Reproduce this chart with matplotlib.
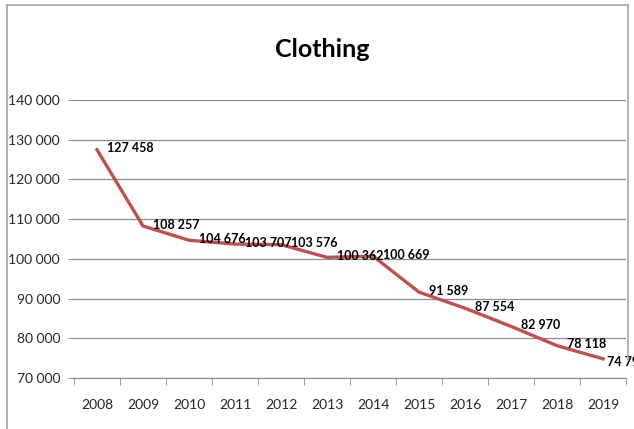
import matplotlib
matplotlib.use("Agg")
import matplotlib.pyplot as plt
from matplotlib.lines import Line2D

years = ["2008", "2009", "2010", "2011", "2012", "2013",
         "2014", "2015", "2016", "2017", "2018", "2019"]
values = [127458, 108257, 104676, 103707, 103576, 100362,
          100669, 91589, 87554, 82970, 78118, 74799]
y_ticks = [70000, 80000, 90000, 100000, 110000, 120000, 130000, 140000]

plt.rcParams["font.family"] = ["Lato", "DejaVu Sans"]


def fmt(v):
    return f"{v:,}".replace(",", " ")


fig = plt.figure(figsize=(6.34, 4.29), dpi=100)
ax = fig.add_axes([0.1167, 0.119, 0.871, 0.648])

x = list(range(len(years)))
ax.plot(x, values, color="#C0504D", lw=2.4, solid_joinstyle="round", zorder=3)

for i, (xi, v) in enumerate(zip(x, values)):
    dx = 3 if i == len(values) - 1 else 7
    dy = -2 if i == len(values) - 1 else 1
    ax.annotate(fmt(v), (xi, v), xytext=(dx, dy), textcoords="offset points",
                ha="left", va="center", fontsize=9, fontweight="bold",
                color="black", zorder=4, annotation_clip=False)

ax.set_xlim(-0.5, len(years) - 0.5)
ax.set_ylim(70000, 140000)
ax.set_yticks(y_ticks)
ax.set_yticklabels([fmt(t) for t in y_ticks], fontsize=10, color="#262626")
ax.set_xticks(x)
ax.set_xticklabels(years, fontsize=10, color="#262626")
ax.tick_params(axis="x", length=0, pad=15)
ax.tick_params(axis="y", length=4, color="#8c8c8c", pad=6)
ax.set_xticks([i + 0.5 for i in range(-1, len(years))], minor=True)
ax.tick_params(axis="x", which="minor", length=5, color="#8c8c8c", direction="out")
ax.grid(axis="y", color="#8c8c8c", lw=0.9)
ax.set_axisbelow(True)
for side in ("top", "right", "left"):
    ax.spines[side].set_visible(False)
ax.spines["bottom"].set_color("#8c8c8c")

fig.text(0.508, 0.885, "Clothing", ha="center", va="center",
         fontsize=18, fontweight="bold")

# chart frame
frame_color = "#a6a6a6"
W, H = 634, 429
fig.add_artist(Line2D([7 / W, 7 / W], [0, 1 - 5 / H], color=frame_color, lw=1.2))
fig.add_artist(Line2D([7 / W, 628 / W], [1 - 5 / H, 1 - 5 / H], color=frame_color, lw=1.2))
fig.add_artist(Line2D([628 / W, 628 / W], [1 - 5 / H, 0.16], color=frame_color, lw=1.2))

fig.savefig("out.png", dpi=100)
